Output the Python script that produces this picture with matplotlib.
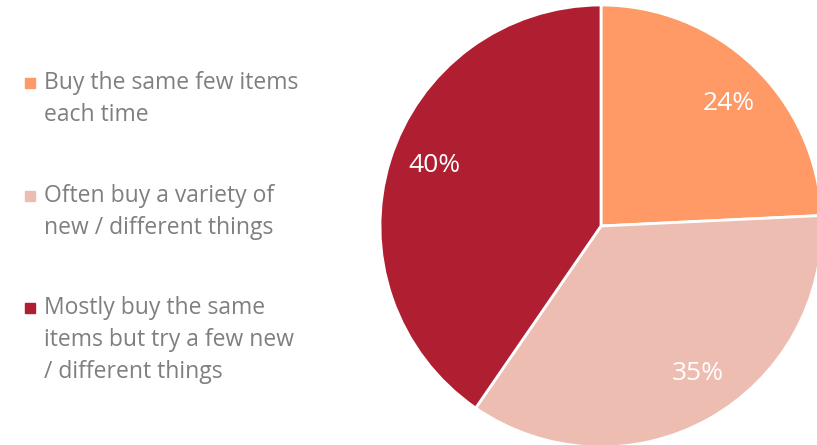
import matplotlib
matplotlib.use('Agg')

import numpy as np
import matplotlib.pyplot as plt
from matplotlib.patches import Rectangle

plt.rcParams['font.family'] = ['Open Sans', 'DejaVu Sans']

# shopping habit shares (%)
labels = ['Buy the same few items\neach time',
          'Often buy a variety of\nnew / different things',
          'Mostly buy the same\nitems but try a few new\n/ different things']
shares = [24, 35, 40]
colors = ['#FF9966', '#EDBDB2', '#B01E31']

W, H = 817, 445
fig = plt.figure(figsize=(W / 100, H / 100), dpi=100)

# pie centred at (601, 226) px with radius 221 px, right edge runs off the canvas
cx, cy, r = 601, 226, 221
ax = fig.add_axes([(cx - r) / W, (H - cy - r) / H, 2 * r / W, 2 * r / H])
wedges, texts, autotexts = ax.pie(
    shares, colors=colors, startangle=90, counterclock=False, radius=1,
    autopct=lambda p: '%d%%' % round(p * sum(shares) / 100),
    pctdistance=0.8,
    wedgeprops=dict(edgecolor='white', linewidth=2),
    textprops=dict(color='white', fontsize=19))
for w in wedges:
    w.set_clip_on(False)

# small per-label angular nudges (degrees, ccw positive)
nudge = [-2.6, 4.2, -2.6]
for t, d in zip(autotexts, nudge):
    a = np.deg2rad(d)
    x, y = t.get_position()
    t.set_position((x * np.cos(a) - y * np.sin(a),
                    x * np.sin(a) + y * np.cos(a)))

ax.set_xlim(-1, 1)
ax.set_ylim(-1, 1)
ax.set_aspect('auto')
ax.axis('off')

# hand-built legend on the left
first_baseline = [89, 202, 314]
line_step = 32
for lab, col, y0 in zip(labels, colors, first_baseline):
    fig.patches.append(Rectangle((25 / W, 1 - (y0 - 1) / H), 10 / W, 10 / H,
                                 transform=fig.transFigure, color=col))
    for i, line in enumerate(lab.split('\n')):
        fig.text(44 / W, 1 - (y0 + i * line_step) / H, line,
                 fontsize=16.5, color='#7F7F7F', va='baseline', ha='left')

plt.savefig('out.png', dpi=100)
